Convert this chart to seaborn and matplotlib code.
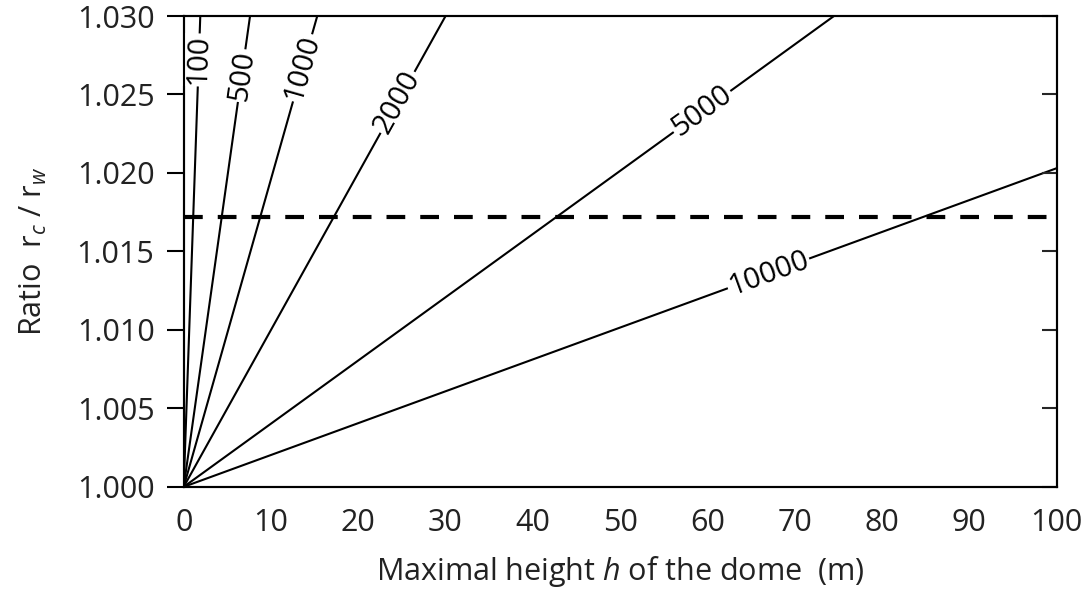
import numpy as np
import pandas as pd
import matplotlib as mpl
import matplotlib.pyplot as plt
import seaborn as sns

# curves: radius R, end point of each straight line
radii = [100, 500, 1000, 2000, 5000, 10000]
h_start = [0, 0, 0, 0, 0, 0]
ratio_start = [1.000, 1.000, 1.000, 1.000, 1.000, 1.000]
h_end = [1.9, 7.6, 15.3, 30.0, 74.5, 100.0]
ratio_end = [1.030, 1.030, 1.030, 1.030, 1.030, 1.0203]

# inline label positions (h, ratio) along each line
label_h = [1.72, 6.65, 13.6, 24.5, 59.4, 67.0]
label_ratio = [1.0272, 1.0262, 1.0267, 1.0245, 1.0239, 1.0136]

threshold = 1.0172

xticks = list(range(0, 101, 10))
yticks = [1.000, 1.005, 1.010, 1.015, 1.020, 1.025, 1.030]

sns.set_style("white")
plt.rcParams["font.family"] = ["Open Sans", "DejaVu Sans"]
plt.rcParams["mathtext.fontset"] = "custom"
plt.rcParams["mathtext.rm"] = "Open Sans"
plt.rcParams["mathtext.it"] = "Open Sans:italic"

rows = []
for r, x0, y0, x1, y1 in zip(radii, h_start, ratio_start, h_end, ratio_end):
    rows.append({"R": r, "h": x0, "ratio": y0})
    rows.append({"R": r, "h": x1, "ratio": y1})
df = pd.DataFrame(rows)

fig = plt.figure(figsize=(10.87, 5.93), dpi=100)
ax = fig.add_axes([0.169, 0.179, 0.803, 0.794])

sns.lineplot(data=df, x="h", y="ratio", units="R", estimator=None,
             color="black", linewidth=1.5, ax=ax, legend=False)
ax.axhline(threshold, color="black", linewidth=3, linestyle=(0, (4.5, 3.6)))

for r, x0, y0, x1, y1, lx, ly in zip(radii, h_start, ratio_start, h_end, ratio_end,
                                     label_h, label_ratio):
    ang = np.degrees(np.arctan2(y1 - y0, x1 - x0))
    ax.text(lx, ly, str(r), rotation=ang, rotation_mode="anchor",
            transform_rotates_text=True, ha="center", va="center",
            fontsize=21, color="black",
            bbox=dict(facecolor="white", edgecolor="none", pad=1.0))

ax.set_xlim(0, 100)
ax.set_ylim(1.000, 1.030)
ax.set_xticks(xticks)
ax.set_yticks(yticks)
ax.set_yticklabels([f"{v:.3f}" for v in yticks])
ax.tick_params(axis="both", direction="out", width=1.5,
               labelsize=22, color="black", labelcolor="#222222")
ax.tick_params(axis="x", length=10, pad=5)
ax.tick_params(axis="y", length=12, pad=9)

ax2 = ax.twinx()
ax2.set_ylim(1.000, 1.030)
ax2.set_yticks(yticks)
ax2.tick_params(axis="y", direction="in", length=11, width=1.5, labelright=False)

for a in (ax, ax2):
    for s in a.spines.values():
        s.set_linewidth(1.5)
        s.set_color("black")

ax.set_xlabel("Maximal height $h$ of the dome  (m)", fontsize=22, labelpad=12,
              color="#222222")
ax.set_ylabel("Ratio  r$_c$ / r$_w$", fontsize=22, labelpad=20, color="#222222")

fig.savefig("out.png", dpi=100, facecolor="white")
